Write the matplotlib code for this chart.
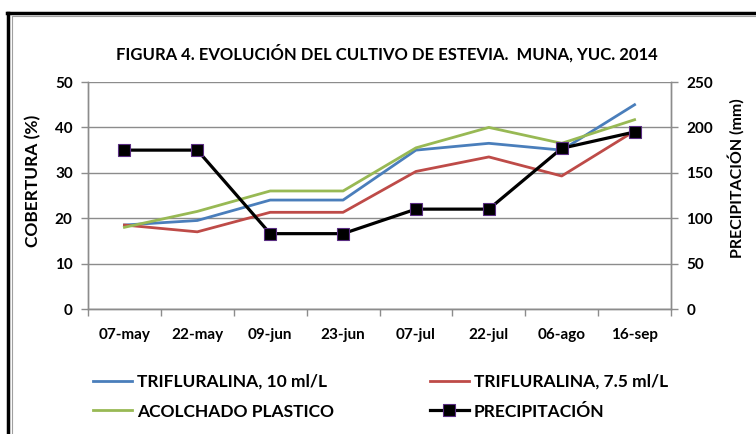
import matplotlib.pyplot as plt
from matplotlib.lines import Line2D

plt.rcParams['font.family'] = ['Lato', 'DejaVu Sans']
plt.rcParams['font.weight'] = 'bold'

# datos
fechas = ['07-may', '22-may', '09-jun', '23-jun', '07-jul', '22-jul', '06-ago', '16-sep']
trif_10 = [18.5, 19.5, 24.0, 24.0, 35.0, 36.5, 35.0, 45.0]
trif_75 = [18.5, 17.0, 21.3, 21.3, 30.3, 33.5, 29.3, 39.2]
acolchado = [18.0, 21.5, 26.0, 26.0, 35.5, 40.0, 36.5, 41.7]
precipitacion = [175, 175, 83, 83, 110, 110, 177, 195]

azul = '#4A7EBB'
rojo = '#BE4B48'
verde = '#98B954'
gris = '#8C8C8C'

fig = plt.figure(figsize=(7.56, 4.34), dpi=100)
ax = fig.add_axes([0.1164, 0.288, 0.7712, 0.523])
ax2 = ax.twinx()

x = range(len(fechas))
ax.plot(x, trif_10, color=azul, lw=2.0, zorder=3)
ax.plot(x, trif_75, color=rojo, lw=2.0, zorder=3)
ax.plot(x, acolchado, color=verde, lw=2.0, zorder=3)
ax2.plot(x, precipitacion, color='black', lw=2.3, marker='s', markersize=9,
         markerfacecolor='black', markeredgecolor='#5A2D82', markeredgewidth=0.8)

ax.set_xlim(-0.5, len(fechas) - 0.5)
ax.set_ylim(0, 50)
ax2.set_ylim(0, 250)
ax.set_yticks(range(0, 51, 10))
ax2.set_yticks(range(0, 251, 50))
ax.set_xticks(x)
ax.set_xticklabels(fechas)
ax.set_xticks([i - 0.5 for i in range(len(fechas) + 1)], minor=True)
ax.tick_params(axis='x', which='major', length=0, pad=14, labelsize=11)
ax.tick_params(axis='x', which='minor', length=5, color=gris, width=1)
ax.tick_params(axis='y', length=5, color=gris, width=1, labelsize=11, pad=6)
ax2.tick_params(axis='y', length=5, color=gris, width=1, labelsize=11, pad=6)

ax.grid(axis='y', color=gris, lw=1)
ax.set_axisbelow(True)
for a in (ax, ax2):
    a.spines['top'].set_visible(False)
    for s in ('left', 'right', 'bottom'):
        a.spines[s].set_color(gris)
        a.spines[s].set_linewidth(1)

ax.set_ylabel('COBERTURA (%)', fontsize=12.5, fontweight='bold')
ax2.set_ylabel('PRECIPITACIÓN (mm)', fontsize=11.5, fontweight='bold')
ax.yaxis.set_label_coords(-0.08, 0.565)
ax2.yaxis.set_label_coords(1.097, 0.577)

fig.text(0.512, 0.878, 'FIGURA 4. EVOLUCIÓN DEL CULTIVO DE ESTEVIA.  MUNA, YUC. 2014',
         ha='center', va='center', fontsize=12)

handles = [
    Line2D([], [], color=azul, lw=2.0),
    Line2D([], [], color=verde, lw=2.0),
    Line2D([], [], color=rojo, lw=2.0),
    Line2D([], [], color='black', lw=2.3, marker='s', markersize=9,
           markerfacecolor='black', markeredgecolor='#5A2D82', markeredgewidth=0.8),
]
labels = ['TRIFLURALINA, 10 ml/L', 'ACOLCHADO PLASTICO',
          'TRIFLURALINA, 7.5 ml/L', 'PRECIPITACIÓN']
fig.legend(handles, labels, ncol=2, loc='upper left', bbox_to_anchor=(0.114, 0.155),
           frameon=False, fontsize=12.5, handlelength=2.25, handletextpad=0.29,
           columnspacing=5.5, labelspacing=0.8, borderaxespad=0)

# marco del grafico
fig.add_artist(Line2D([0.009, 1.0], [0.970, 0.970], color='black', lw=2.5, transform=fig.transFigure))
fig.add_artist(Line2D([0.011, 0.011], [0.0, 0.970], color='black', lw=2.5, transform=fig.transFigure))
fig.add_artist(Line2D([0.016, 1.0], [0.962, 0.962], color='#A0A0A0', lw=0.8, transform=fig.transFigure))
fig.add_artist(Line2D([0.016, 0.016], [0.0, 0.962], color='#A0A0A0', lw=0.8, transform=fig.transFigure))

fig.savefig('out.png', dpi=100)
